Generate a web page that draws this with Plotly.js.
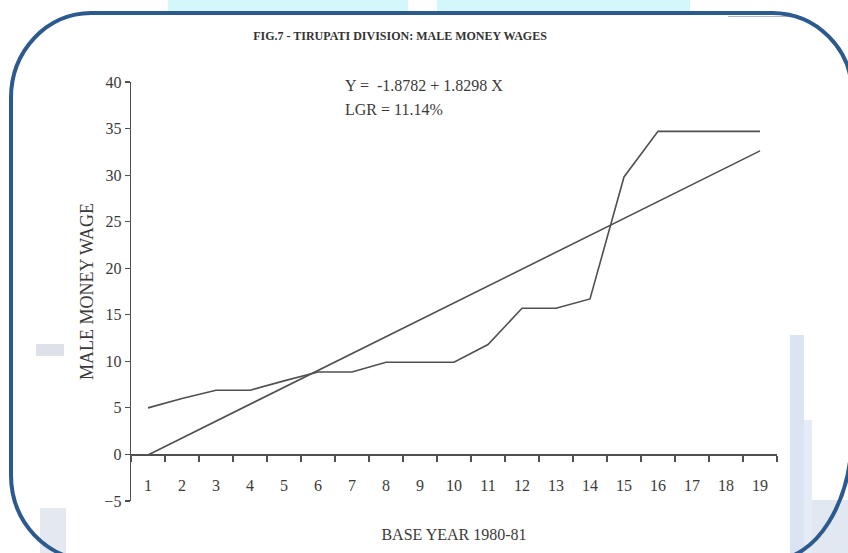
<!DOCTYPE html>
<html>
<head>
<meta charset="utf-8">
<script src="https://cdn.plot.ly/plotly-3.0.1.min.js"></script>
<style>
  html, body { margin: 0; padding: 0; background: #ffffff; }
  #chart { width: 848px; height: 553px; }
</style>
</head>
<body>
<div id="chart"></div>
<script>
// ---- data ----
const years = ['1','2','3','4','5','6','7','8','9','10','11','12','13','14','15','16','17','18','19'];
const maleWages = [5, 6, 6.9, 6.9, 7.9, 8.85, 8.85, 9.9, 9.9, 9.9, 11.8, 15.7, 15.7, 16.7, 29.8, 34.7, 34.7, 34.7, 34.7];
const trendYears = ['1', '19'];
const trendValues = [-0.05, 32.6];
const yTickValues = [-5, 0, 5, 10, 15, 20, 25, 30, 35, 40];
const equationText = 'Y =  -1.8782 + 1.8298 X';
const lgrText = 'LGR = 11.14%';

// ---- layout geometry (pixels) ----
const W = 848, H = 553;
const PL = 131, PR = 777, PT = 82, PB = 501;
const px = x => (x - PL) / (PR - PL);
const py = y => (PB - y) / (PB - PT);

// rounded frame path (each corner own radii)
function framePath(L, T, R, B, c) {
  const k = 0.5523;
  const P = (x, y) => px(x).toFixed(5) + ',' + py(y).toFixed(5);
  let d = 'M ' + P(L + c.tl[0], T);
  d += ' L ' + P(R - c.tr[0], T);
  d += ' C ' + P(R - c.tr[0] + k * c.tr[0], T) + ' ' + P(R, T + c.tr[1] - k * c.tr[1]) + ' ' + P(R, T + c.tr[1]);
  d += ' L ' + P(R, B - c.br[1]);
  d += ' C ' + P(R, B - c.br[1] + k * c.br[1]) + ' ' + P(R - c.br[0] + k * c.br[0], B) + ' ' + P(R - c.br[0], B);
  d += ' L ' + P(L + c.bl[0], B);
  d += ' C ' + P(L + c.bl[0] - k * c.bl[0], B) + ' ' + P(L, B - c.bl[1] + k * c.bl[1]) + ' ' + P(L, B - c.bl[1]);
  d += ' L ' + P(L, T + c.tl[1]);
  d += ' C ' + P(L, T + c.tl[1] - k * c.tl[1]) + ' ' + P(L + c.tl[0] - k * c.tl[0], T) + ' ' + P(L + c.tl[0], T);
  return d;
}

function rectPx(x0, y0, x1, y1, color) {
  return {type: 'rect', xref: 'paper', yref: 'paper', layer: 'below',
          x0: px(x0), x1: px(x1), y0: py(y0), y1: py(y1),
          fillcolor: color, line: {width: 0}};
}

const lineColor = '#505050';
const textColor = '#3a3a3a';
const serif = 'Liberation Serif, Times New Roman, serif';

const traces = [
  {
    x: years, y: maleWages, type: 'scatter', mode: 'lines',
    line: {color: lineColor, width: 1.6}, hoverinfo: 'skip', showlegend: false
  },
  {
    x: trendYears, y: trendValues, type: 'scatter', mode: 'lines',
    line: {color: lineColor, width: 1.6}, hoverinfo: 'skip', showlegend: false
  }
];

const layout = {
  width: W, height: H,
  margin: {l: PL, r: W - PR, t: PT, b: H - PB, pad: 0},
  paper_bgcolor: '#ffffff',
  plot_bgcolor: 'rgba(0,0,0,0)',
  showlegend: false,
  font: {family: serif, color: textColor},
  title: {
    text: '<b>FIG.7 - TIRUPATI DIVISION: MALE MONEY WAGES</b>',
    font: {family: serif, size: 12, color: '#333333'},
    x: px(400), xanchor: 'center', xref: 'paper',
    y: (H - 36) / H, yanchor: 'middle', yref: 'container'
  },
  xaxis: {
    type: 'category',
    categoryorder: 'array', categoryarray: years,
    range: [-0.5, 18.5],
    anchor: 'free', position: 5 / 45,
    showline: true, linecolor: lineColor, linewidth: 1.4,
    showgrid: false, zeroline: false,
    ticks: 'outside', tickson: 'boundaries', ticklen: 6, tickwidth: 1.2, tickcolor: lineColor,
    ticklabelstandoff: 16,
    tickfont: {family: serif, size: 16, color: textColor},
    title: {text: 'BASE YEAR 1980-81', standoff: 35,
            font: {family: serif, size: 16, color: textColor}},
    fixedrange: true
  },
  yaxis: {
    range: [-5, 40],
    tickvals: yTickValues,
    showline: true, linecolor: lineColor, linewidth: 1.4,
    showgrid: false, zeroline: false,
    ticks: 'outside', ticklen: 5, tickwidth: 1.2, tickcolor: lineColor,
    tickfont: {family: serif, size: 16, color: textColor},
    title: {text: 'MALE MONEY WAGE', standoff: 6,
            font: {family: serif, size: 18, color: textColor}},
    fixedrange: true
  },
  annotations: [
    {text: equationText, xref: 'paper', yref: 'paper', x: px(343), y: py(86),
     xanchor: 'left', yanchor: 'middle', showarrow: false,
     font: {family: serif, size: 16, color: textColor}},
    {text: lgrText, xref: 'paper', yref: 'paper', x: px(343), y: py(109),
     xanchor: 'left', yanchor: 'middle', showarrow: false,
     font: {family: serif, size: 16, color: textColor}}
  ],
  shapes: [
    rectPx(168, 0, 408, 12, '#d3f8fb'),
    rectPx(437, 0, 690, 12, '#d3f8fb'),
    rectPx(36, 344, 64, 356, '#dfe1e8'),
    rectPx(40, 508, 66, 553, '#e4e8f0'),
    rectPx(790, 335, 804, 553, '#dbe4f2'),
    rectPx(804, 420, 812, 553, '#e6ecf5'),
    rectPx(812, 500, 848, 553, '#e2e8f2'),
    {type: 'line', xref: 'paper', yref: 'paper', layer: 'below',
     x0: px(728), x1: px(790), y0: py(16.5), y1: py(16.5),
     line: {color: '#b0b4bc', width: 1}},
    {type: 'path', xref: 'paper', yref: 'paper', layer: 'above',
     path: framePath(11, 13, 852, 560, {tl: [80, 85], tr: [80, 80], br: [80, 128], bl: [80, 85]}),
     line: {color: '#2d5a8e', width: 4}}
  ]
};

Plotly.newPlot('chart', traces, layout, {staticPlot: true, displayModeBar: false});
</script>
</body>
</html>
